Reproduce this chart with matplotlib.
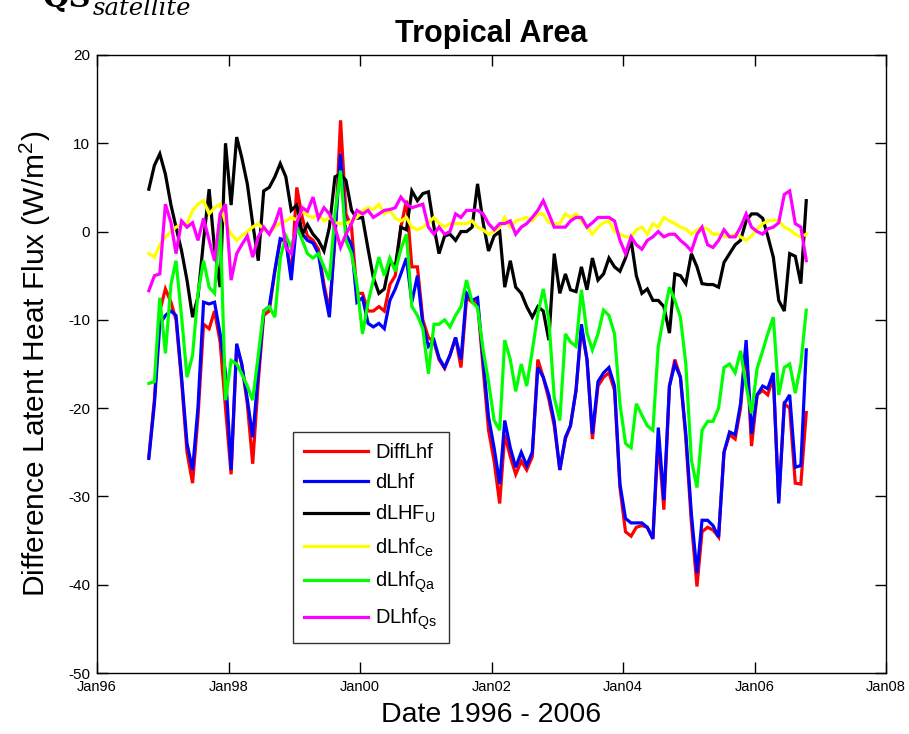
import matplotlib
matplotlib.use("Agg")
import matplotlib.pyplot as plt
import matplotlib.dates as mdates
import numpy as np
import pandas as pd

plt.rcParams['font.family'] = ['Liberation Sans', 'DejaVu Sans']
plt.rcParams['mathtext.default'] = 'regular'
plt.rcParams['axes.unicode_minus'] = False

# Monthly dates Oct 1996 - Oct 2006
start_month = '1996-10-01'
n_months = 121

diff_lhf = [-25.5, -19, -9, -6.5, -8, -10, -17, -25, -28.5, -21, -10.5, -11, -9, -12.5, -20, -27.5, -13, -15, -19.5, -26.3,
            -17, -9.5, -9, -4.5, -1, -1, -5, 5.0, 1.5, -0.5, -1, -2, -6, -9, -1, 12.6, 2.0, 0.5, -7, -7,
            -9, -9, -8.5, -9, -6, -5, 0.5, 3.5, -4, -4, -10, -12, -12.5, -14.5, -15.5, -14, -12, -15.4, -7.5, -8,
            -8, -15.5, -22.5, -26, -30.8, -23, -25.5, -27.5, -26, -27, -25.5, -14.5, -16.5, -19, -22, -27, -23.5, -22, -18, -11,
            -14.5, -23.5, -17.5, -16.5, -16, -18, -29, -34, -34.5, -33.5, -33.3, -33.5, -34.8, -23.5, -31.5, -17.5, -14.5, -16.5, -23.5, -33,
            -40.2, -34, -33.5, -33.8, -34.6, -25, -23, -23.5, -20, -13, -24.3, -18.5, -18, -18.5, -16.5, -30.5, -19.5, -20, -28.5, -28.6,
            -20.5]

d_lhf = [-25.7, -19.5, -10.5, -9.5, -9.0, -9.5, -16.5, -24, -27, -19.9, -8.0, -8.2, -8.0, -11.6, -16, -27, -12.7, -15, -19, -23.3,
         -16.1, -9, -8.5, -4.4, -0.8, -1, -5.5, 1.2, -0.3, -1.0, -1.3, -2.5, -6.5, -9.7, -0.3, 8.8, -0.3, -1.5, -8.0, -7.5,
         -10.4, -10.8, -10.4, -11.0, -7.8, -6.5, -4.8, -3.0, -8.0, -5.0, -10.5, -13.0, -12.3, -14.3, -15.4, -14.0, -12.0, -14.5, -7.0, -7.8,
         -7.5, -14.6, -21, -24.5, -28.6, -21.4, -24.5, -26.7, -25, -26.5, -25, -15.4, -16.5, -18.5, -21.5, -27, -23.3, -22, -18, -10.5,
         -14.5, -22.9, -17, -16, -15.4, -17.5, -28.6, -32.5, -33, -33, -33, -33.5, -34.8, -22.2, -30.4, -17.5, -15, -16.5, -22.9, -32,
         -38.7, -32.7, -32.7, -33.3, -34.6, -25, -22.7, -23, -19.5, -12.3, -22.9, -18.5, -17.5, -17.8, -16, -30.8, -19.5, -18.5, -26.7, -26.5,
         -13.4]

d_lhf_u = [4.8, 7.5, 8.8, 6.5, 3.0, 0.5, -2.2, -5.5, -9.7, -7.4, -1.0, 4.8, -2.0, -6.3, 10.0, 3.0, 10.7, 8.4, 5.4, 0.9,
           -3.3, 4.6, 5.0, 6.2, 7.7, 6.2, 2.4, 3.0, -0.3, 0.8, -0.3, -1.0, -2.2, 0.5, 6.2, 6.5, 5.8, 2.4, 1.5, 1.6,
           -2.0, -5.2, -7.0, -6.5, -3.3, -4.0, 0.5, 0.2, 4.6, 3.5, 4.3, 4.5, 0.5, -2.5, -0.5, -0.3, -1.0, 0.0, 0.0, 0.5,
           5.4, 1.0, -2.2, -0.5, 0.0, -6.3, -3.3, -6.3, -7.0, -8.5, -9.7, -8.5, -9.0, -12.3, -2.5, -7.0, -4.8, -6.6, -6.8, -4.0,
           -6.6, -3.0, -5.5, -4.8, -3.0, -4.0, -4.5, -3.0, -1.0, -5.0, -7.0, -6.5, -7.8, -7.8, -8.5, -11.5, -4.8, -5.0, -5.9, -2.5,
           -4.0, -5.9, -6.0, -6.0, -6.3, -3.5, -2.5, -1.5, -1.0, 1.2, 2.0, 2.0, 1.5, -0.5, -2.9, -7.8, -9.0, -2.5, -2.8, -5.9,
           3.5]

d_lhf_ce = [-2.5, -2.9, -1.5, -0.6, 0.0, 0.5, 0.8, 0.9, 2.4, 3.1, 3.5, 2.0, 2.7, 3.1, 1.0, -0.3, -1.0, -0.5, 0.0, 0.5,
            0.9, 0.2, -0.2, 0.5, 1.0, 1.2, 1.6, 1.3, 2.4, 1.8, 1.6, 2.0, 1.2, 1.6, 1.0, 0.9, 0.9, 1.2, 1.6, 2.4,
            2.7, 2.5, 3.1, 2.0, 2.4, 1.5, 1.2, 1.6, 0.5, 0.2, 0.5, 1.0, 1.6, 0.9, 0.5, 0.9, 0.9, 0.9, 0.9, 1.2,
            0.5, 0.2, -0.3, 0.0, 0.5, 1.6, 0.5, 1.2, 1.4, 1.6, 1.2, 2.0, 2.0, 1.0, 0.9, 0.9, 2.0, 1.6, 2.0, 1.2,
            0.5, -0.3, 0.5, 1.0, 1.2, 0.0, -0.3, -0.6, -0.6, 0.2, 0.5, -0.3, 0.9, 0.5, 1.6, 1.2, 0.9, 0.5, 0.3, -0.3,
            0.2, 0.5, 0.3, -0.3, -0.3, -0.5, -0.6, -0.3, -0.6, -1.0, -0.5, 0.3, 0.9, 1.2, 1.3, 1.2, 0.5, 0.2, -0.3, -0.6,
            -0.3]

d_lhf_qa = [-17.2, -17.0, -7.5, -13.8, -6.0, -3.3, -9.7, -16.5, -14, -7, -3.3, -6.3, -7, 1.6, -19.1, -14.6, -15, -16.1, -17.5, -19.1,
            -14, -9, -8.5, -9.7, -3.0, -0.5, -1.8, 0.5, -1.0, -2.5, -3.0, -2.5, -4.0, -5.5, 2.0, 6.9, -1.0, -2.5, -6.0, -11.6,
            -8.0, -5.5, -2.9, -5.0, -3.0, -4.5, -2.0, -0.3, -8.5, -9.5, -11.0, -16.1, -10.5, -10.5, -10.0, -10.8, -9.5, -8.5, -5.5, -8.0,
            -8.6, -13.4, -17, -21.4, -22.5, -12.3, -14.5, -18.1, -15, -17.5, -13.5, -9.3, -6.5, -10.0, -18.8, -21.4, -11.6, -12.5, -13.0, -6.6,
            -11.5, -13.4, -11.6, -8.9, -9.5, -11.6, -19.5, -24, -24.5, -19.5, -20.8, -22, -22.5, -13, -9.5, -6.3, -7.8, -9.7, -15, -25.9,
            -29, -22.5, -21.5, -21.5, -20, -15.4, -15.0, -16, -13.5, -17.5, -20.6, -15.5, -13.5, -11.6, -9.7, -18.5, -15.4, -15.0, -18.3, -15.0,
            -8.9]

d_lhf_qs = [-6.7, -5.0, -4.8, 3.1, 1.0, -2.5, 1.2, 0.5, 1.0, -1.0, 1.5, -1.0, -3.3, 2.0, 3.1, -5.5, -2.5, -1.5, -0.5, -2.9,
            -0.6, 0.5, -0.3, 0.9, 2.7, -1.8, -2.5, 1.0, 2.7, 2.3, 3.9, 1.5, 2.7, 2.0, 0.5, -1.8, -0.3, 0.9, 2.4, 2.0,
            2.4, 1.6, 2.0, 2.4, 2.5, 2.7, 3.9, 3.1, 2.7, 2.9, 3.1, 0.5, -0.3, 0.5, -0.3, 0.0, 2.0, 1.6, 2.4, 2.4,
            2.4, 2.0, 0.9, 0.2, 0.9, 0.9, 1.2, -0.3, 0.5, 0.9, 1.6, 2.4, 3.5, 2.0, 0.5, 0.5, 0.5, 1.2, 1.6, 1.6,
            0.5, 1.0, 1.6, 1.6, 1.6, 1.2, -1.0, -2.5, -0.6, -1.5, -2.0, -1.0, -0.6, 0.0, -0.6, -0.3, -0.3, -1.0, -1.5, -2.2,
            -0.3, 0.5, -1.5, -1.8, -1.0, 0.2, -0.6, -0.6, 0.5, 2.0, 0.5, 0.0, -0.3, 0.3, 0.5, 1.0, 4.2, 4.6, 0.9, 0.5,
            -3.3]

series_labels = ['DiffLhf', 'dLhf', r'dLHF$_{U}$', r'dLhf$_{Ce}$', r'dLhf$_{Qa}$', r'DLhf$_{Qs}$']
series_colors = ['#ff0000', '#0000ff', '#000000', '#ffff00', '#00ff00', '#ff00ff']
x_tick_years = [1996, 1998, 2000, 2002, 2004, 2006, 2008]
y_ticks = [-50, -40, -30, -20, -10, 0, 10, 20]

dates = pd.date_range(start_month, periods=n_months, freq='MS') + pd.Timedelta(days=14)
all_series = [diff_lhf, d_lhf, d_lhf_u, d_lhf_ce, d_lhf_qa, d_lhf_qs]

fig = plt.figure(figsize=(9.09, 7.34), dpi=100)
ax = fig.add_axes([0.1067, 0.0831, 0.868, 0.842])

for vals, lab, col in zip(all_series, series_labels, series_colors):
    ax.plot(dates, vals, color=col, lw=2.3, label=lab, solid_joinstyle='miter')

ax.set_xlim(pd.Timestamp('1996-01-01'), pd.Timestamp('2008-01-01'))
ax.set_ylim(-50, 20)
ax.set_yticks(y_ticks)
ax.set_xticks([pd.Timestamp(f'{y}-01-01') for y in x_tick_years])
ax.xaxis.set_major_formatter(mdates.DateFormatter('%b%y'))
ax.tick_params(direction='in', length=8, width=1, top=True, right=True, pad=4)
ax.tick_params(axis='y', labelsize=11, pad=5)
ax.tick_params(axis='x', labelsize=10.5, pad=5)
for s in ax.spines.values():
    s.set_linewidth(1.0)

ax.set_title('Tropical Area', fontsize=22, fontweight='bold', pad=9)
ax.set_xlabel('Date 1996 - 2006', fontsize=20.5, labelpad=6)
ax.set_ylabel(r'Difference Latent Heat Flux (W/m$^2$)', fontsize=21.5, labelpad=11)

leg = ax.legend(loc='lower left', bbox_to_anchor=(0.248, 0.0485), fontsize=14.5,
                handlelength=3.2, handletextpad=0.35, labelspacing=0.55, borderpad=0.55,
                fancybox=False, frameon=True, borderaxespad=0)
leg.get_frame().set_edgecolor('black')
leg.get_frame().set_linewidth(1.0)
for line in leg.get_lines():
    line.set_linewidth(2.3)

fig.text(43 / 909, 1 - 7 / 734, 'QS', fontsize=22, fontweight='bold', family='DejaVu Serif', va='baseline')
fig.text(93 / 909, 1 - 15 / 734, 'satellite', fontsize=17.5, style='italic', family='DejaVu Serif', va='baseline')

fig.savefig('out.png', dpi=100)
